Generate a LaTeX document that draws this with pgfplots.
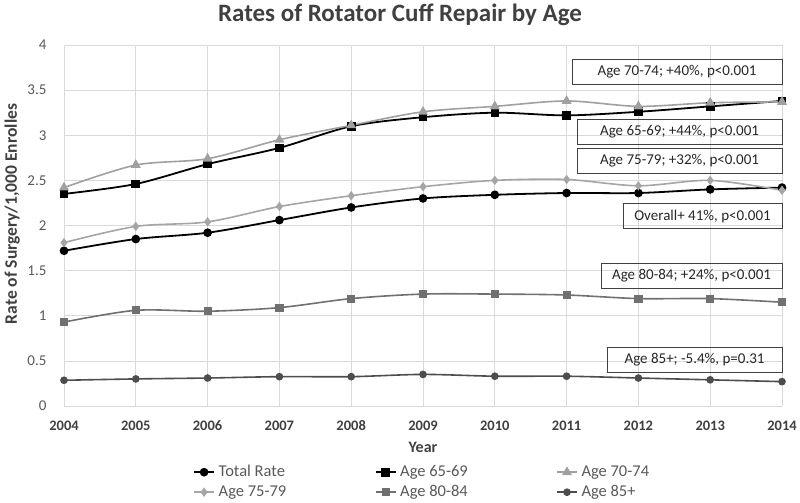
\documentclass[border=0pt]{standalone}
\usepackage{fontspec}
\setmainfont{Carlito}
\usepackage{pgfplots}
\pgfplotsset{compat=1.18}
\definecolor{gridc}{HTML}{D9D9D9}
\definecolor{textdark}{HTML}{404040}
\definecolor{textgray}{HTML}{595959}
\definecolor{boxc}{HTML}{404040}
\definecolor{cA}{HTML}{000000}
\definecolor{cB}{HTML}{000000}
\definecolor{cC}{HTML}{A0A0A0}
\definecolor{cD}{HTML}{A5A5A5}
\definecolor{cE}{HTML}{707070}
\definecolor{cF}{HTML}{4D4D4D}
\begin{document}
\begin{tikzpicture}
\begin{axis}[
  scale only axis, width=718bp, height=361bp,
  xmin=2004, xmax=2014, ymin=0, ymax=4,
  xtick={2004,2005,...,2014}, ytick={0,0.5,1,1.5,2,2.5,3,3.5,4},
  grid=major, major grid style={gridc, line width=0.75bp},
  axis line style={draw=none}, tick style={draw=none},
  clip=false,
  /pgf/number format/assume math mode=true,
  x tick label style={/pgf/number format/1000 sep=, font=\fontsize{14.5bp}{16bp}\selectfont\bfseries, text=textdark, yshift=-11bp},
  y tick label style={font=\fontsize{15bp}{17bp}\selectfont, text=textgray, xshift=-14bp},
  xlabel={Year},
  every axis x label/.style={at={(axis description cs:0.5,-0.11357)}, anchor=center, font=\fontsize{16bp}{18bp}\selectfont\bfseries, text=textdark},
  ylabel={Rate of Surgery/1,000 Enrolles},
  every axis y label/.style={at={(axis description cs:-0.06546,0.5319)}, rotate=90, anchor=base, font=\fontsize{17.5bp}{20bp}\selectfont\bfseries, text=textdark},
  legend columns=3,
  legend cell align=left,
  legend style={at={(axis description cs:0.17967,-0.15512)}, anchor=north west, draw=none, fill=none, inner sep=0pt, row sep=0pt,
    nodes={inner sep=0pt, text height=14bp, text depth=6bp, font=\fontsize{16.5bp}{18bp}\selectfont, text=textgray},
    /tikz/every odd column/.append style={column sep=3.7bp}},
  legend image code/.code={\draw[mark repeat=2,mark phase=2] plot coordinates {(0bp,0bp) (10bp,0bp) (20bp,0bp)};},
  every axis plot/.append style={smooth, tension=0.5},
]
\addplot[cA, line width=1.8bp, mark=*, mark size=3.4bp, mark options={solid, fill=cA}] coordinates {
(2004,1.72) (2005,1.85) (2006,1.92) (2007,2.06) (2008,2.20) (2009,2.30) (2010,2.34) (2011,2.36) (2012,2.36) (2013,2.40) (2014,2.42)};
\addlegendentry{\makebox[156bp][l]{Total Rate}}
\addplot[cB, line width=1.8bp, mark=square*, mark size=3.4bp, mark options={solid, fill=cB}] coordinates {
(2004,2.35) (2005,2.46) (2006,2.68) (2007,2.86) (2008,3.10) (2009,3.20) (2010,3.25) (2011,3.22) (2012,3.26) (2013,3.32) (2014,3.38)};
\addlegendentry{\makebox[156bp][l]{Age 65-69}}
\addplot[cC, line width=1.6bp, mark=triangle*, mark size=4.2bp, mark options={solid, fill=cC}] coordinates {
(2004,2.42) (2005,2.67) (2006,2.74) (2007,2.95) (2008,3.11) (2009,3.26) (2010,3.32) (2011,3.38) (2012,3.32) (2013,3.36) (2014,3.37)};
\addlegendentry{\makebox[156bp][l]{Age 70-74}}
\addplot[cD, line width=1.6bp, mark=diamond*, mark size=3.4bp, mark options={solid, fill=cD}] coordinates {
(2004,1.81) (2005,1.99) (2006,2.04) (2007,2.21) (2008,2.33) (2009,2.43) (2010,2.50) (2011,2.51) (2012,2.44) (2013,2.50) (2014,2.39)};
\addlegendentry{\makebox[156bp][l]{Age 75-79}}
\addplot[cE, line width=1.6bp, mark=square*, mark size=3.3bp, mark options={solid, fill=cE}] coordinates {
(2004,0.93) (2005,1.06) (2006,1.05) (2007,1.09) (2008,1.19) (2009,1.24) (2010,1.24) (2011,1.23) (2012,1.19) (2013,1.19) (2014,1.15)};
\addlegendentry{\makebox[156bp][l]{Age 80-84}}
\addplot[cF, line width=1.6bp, mark=*, mark size=3bp, mark options={solid, fill=cF}] coordinates {
(2004,0.285) (2005,0.30) (2006,0.31) (2007,0.325) (2008,0.325) (2009,0.35) (2010,0.33) (2011,0.33) (2012,0.31) (2013,0.29) (2014,0.27)};
\addlegendentry{\makebox[156bp][l]{Age 85+}}

\tikzset{annot/.style={draw=boxc, line width=0.9bp, inner sep=0pt, minimum height=25bp, anchor=east, xshift=0.5bp, font=\fontsize{15bp}{18bp}\selectfont, text=black!85}}
\node[annot, minimum width=210bp] at (axis cs:2014,3.701) {Age 70-74; +40\%, p<0.001};
\node[annot, minimum width=205bp] at (axis cs:2014,3.036) {Age 65-69; +44\%, p<0.001};
\node[annot, minimum width=205bp] at (axis cs:2014,2.720) {Age 75-79; +32\%, p<0.001};
\node[annot, minimum width=159bp] at (axis cs:2014,2.105) {Overall+ 41\%, p<0.001};
\node[annot, minimum width=181bp] at (axis cs:2014,1.440) {Age 80-84; +24\%, p<0.001};
\node[annot, minimum width=175bp] at (axis cs:2014,0.515) {Age 85+; -5.4\%, p=0.31};

\node[anchor=base, font=\fontsize{25bp}{28bp}\selectfont\bfseries, text=textdark, inner sep=0pt] at (rel axis cs:0.46797,1.06371) {Rates of Rotator Cuff Repair by Age};
\end{axis}
\pgfresetboundingbox
\path[use as bounding box] (-64bp,-97bp) rectangle (736bp,406bp);
\end{tikzpicture}
\end{document}
